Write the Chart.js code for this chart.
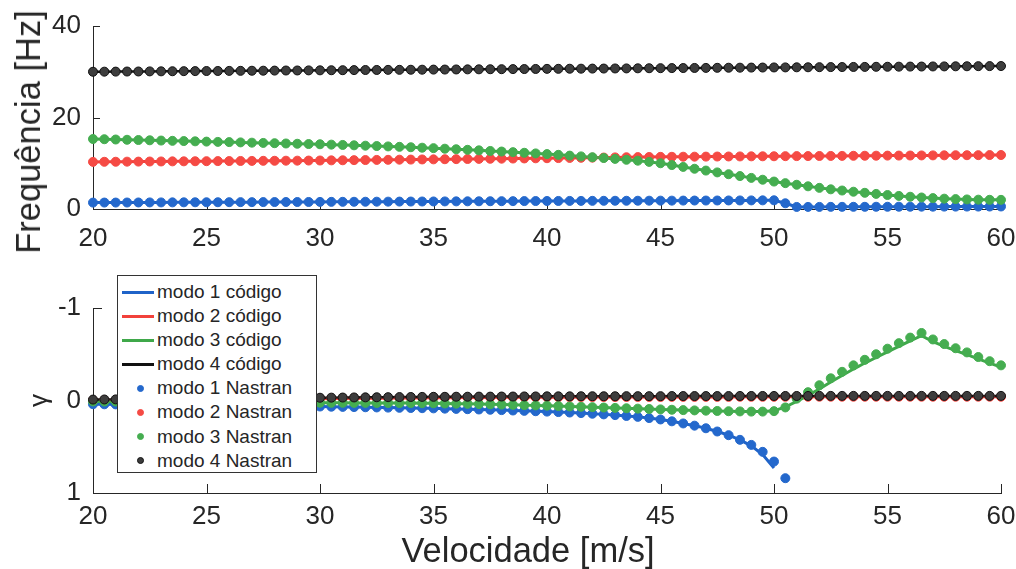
<!DOCTYPE html>
<html>
<head>
<meta charset="utf-8">
<script src="https://cdn.jsdelivr.net/npm/chart.js@4.4.1/dist/chart.umd.min.js"></script>
<style>
  body { margin: 0; background: #fff; }
  #wrap { position: relative; width: 1016px; height: 569px; overflow: hidden; font-family: 'Liberation Sans', Arial, sans-serif; color: #262626; }
  .panel { position: absolute; left: 0; width: 1016px; }
  #freqPanel { top: 0; height: 260px; }
  #gammaPanel { top: 260px; height: 309px; }
  .axis-title { position: absolute; font-size: 34.5px; line-height: 34px; white-space: nowrap; }
  #freqTitle { left: 28px; top: 132px; transform: translate(-50%, -50%) rotate(-90deg); }
  #velTitle { left: 528px; top: 533px; transform: translateX(-50%); }
  #legend { position: absolute; left: 117px; top: 275px; width: 200px; height: 198px; box-sizing: border-box;
            border: 1px solid #333; background: #fff; padding-top: 4px; font-size: 19px; color: #262626; }
  .row { position: relative; height: 24.1px; line-height: 24px; }
  .swatch-line { position: absolute; left: 4px; top: 10.5px; width: 32px; height: 3px; }
  .swatch-dot { position: absolute; left: 18.5px; top: 8.5px; width: 7px; height: 7px; border-radius: 50%; border: 1px solid; box-sizing: border-box; }
  .txt { position: absolute; left: 39px; top: 0; white-space: nowrap; }
</style>
</head>
<body>
<div id="wrap">
  <div class="panel" id="freqPanel"><canvas id="freqChart"></canvas></div>
  <div class="panel" id="gammaPanel"><canvas id="gammaChart"></canvas></div>
  <div class="axis-title" id="freqTitle">Frequência [Hz]</div>
  <div class="axis-title" id="velTitle">Velocidade [m/s]</div>
  <div id="legend"></div>
</div>
<script>
// velocity sweep, m/s
const velocity = [20, 20.5, 21, 21.5, 22, 22.5, 23, 23.5, 24, 24.5, 25, 25.5, 26, 26.5, 27, 27.5, 28, 28.5, 29, 29.5,
  30, 30.5, 31, 31.5, 32, 32.5, 33, 33.5, 34, 34.5, 35, 35.5, 36, 36.5, 37, 37.5, 38, 38.5, 39, 39.5,
  40, 40.5, 41, 41.5, 42, 42.5, 43, 43.5, 44, 44.5, 45, 45.5, 46, 46.5, 47, 47.5, 48, 48.5, 49, 49.5,
  50, 50.5, 51, 51.5, 52, 52.5, 53, 53.5, 54, 54.5, 55, 55.5, 56, 56.5, 57, 57.5, 58, 58.5, 59, 59.5, 60];

// frequency per mode [Hz]
const freq1 = [1.40, 1.41, 1.41, 1.42, 1.43, 1.44, 1.44, 1.45, 1.46, 1.47, 1.47,
  1.48, 1.49, 1.50, 1.50, 1.51, 1.52, 1.53, 1.53, 1.54, 1.55,
  1.56, 1.57, 1.58, 1.59, 1.60, 1.61, 1.62, 1.63, 1.64, 1.65,
  1.66, 1.67, 1.68, 1.69, 1.70, 1.71, 1.72, 1.73, 1.74, 1.75,
  1.76, 1.77, 1.77, 1.78, 1.79, 1.80, 1.80, 1.81, 1.82, 1.83,
  1.83, 1.84, 1.85, 1.85, 1.86, 1.87, 1.87, 1.88, 1.89, 1.90,
  1.25,
  0.45, 0.46, 0.46, 0.47, 0.47, 0.48, 0.48, 0.49, 0.49, 0.50,
  0.50, 0.51, 0.51, 0.52, 0.52, 0.53, 0.53, 0.54, 0.55];
const freq2 = [10.30, 10.32, 10.33, 10.35, 10.36, 10.38, 10.39, 10.41, 10.42, 10.44, 10.45,
  10.47, 10.48, 10.50, 10.51, 10.53, 10.54, 10.56, 10.57, 10.59, 10.60,
  10.63, 10.65, 10.68, 10.70, 10.73, 10.75, 10.78, 10.80, 10.83, 10.85,
  10.88, 10.90, 10.93, 10.95, 10.98, 11.00, 11.03, 11.05, 11.08, 11.10,
  11.13, 11.16, 11.19, 11.22, 11.25, 11.28, 11.31, 11.34, 11.37, 11.40,
  11.41, 11.43, 11.44, 11.45, 11.47, 11.48, 11.49, 11.51, 11.52, 11.53,
  11.55, 11.56, 11.57, 11.59, 11.60, 11.61, 11.63, 11.64, 11.65, 11.67,
  11.68, 11.69, 11.71, 11.72, 11.73, 11.75, 11.76, 11.77, 11.79, 11.80];
const freq3 = [15.30, 15.25, 15.19, 15.13, 15.08, 15.02, 14.96, 14.90, 14.85, 14.79, 14.73,
  14.67, 14.62, 14.56, 14.50, 14.44, 14.38, 14.32, 14.26, 14.20, 14.15,
  14.07, 14.00, 13.92, 13.84, 13.76, 13.68, 13.59, 13.50, 13.40, 13.30,
  13.18, 13.06, 12.94, 12.82, 12.69, 12.56, 12.43, 12.29, 12.15, 12.00,
  11.84, 11.67, 11.50, 11.32, 11.14, 10.95, 10.76, 10.56, 10.30, 10.00,
  9.60, 9.20, 8.80, 8.40, 8.00, 7.60, 7.20, 6.80, 6.40, 6.00,
  5.65, 5.30, 4.96, 4.62, 4.30, 4.04, 3.78, 3.54, 3.30, 3.06,
  2.86, 2.68, 2.52, 2.38, 2.26, 2.16, 2.09, 2.04, 2.01, 2.00];
const freq4 = [30.00, 30.02, 30.03, 30.05, 30.06, 30.08, 30.09, 30.11, 30.13, 30.14, 30.16,
  30.17, 30.19, 30.20, 30.22, 30.23, 30.25, 30.27, 30.28, 30.30, 30.31,
  30.33, 30.34, 30.36, 30.38, 30.39, 30.41, 30.42, 30.44, 30.45, 30.47,
  30.48, 30.50, 30.52, 30.53, 30.55, 30.56, 30.58, 30.59, 30.61, 30.63,
  30.64, 30.66, 30.67, 30.69, 30.70, 30.72, 30.73, 30.75, 30.77, 30.78,
  30.80, 30.81, 30.83, 30.84, 30.86, 30.88, 30.89, 30.91, 30.92, 30.94,
  30.95, 30.97, 30.98, 31.00, 31.02, 31.03, 31.05, 31.06, 31.08, 31.09,
  31.11, 31.13, 31.14, 31.16, 31.17, 31.19, 31.20, 31.22, 31.23, 31.25];

// damping per mode, in-house code
const gamma1Codigo = [0.040, 0.041, 0.042, 0.043, 0.044, 0.045, 0.046, 0.047, 0.048, 0.049, 0.050,
  0.051, 0.052, 0.054, 0.055, 0.057, 0.058, 0.060, 0.061, 0.063, 0.065,
  0.067, 0.069, 0.071, 0.073, 0.075, 0.077, 0.079, 0.081, 0.083, 0.085,
  0.088, 0.091, 0.094, 0.097, 0.100, 0.104, 0.108, 0.112, 0.116, 0.120,
  0.125, 0.130, 0.136, 0.143, 0.150, 0.158, 0.167, 0.177, 0.190, 0.205,
  0.225, 0.248, 0.272, 0.300, 0.335, 0.375, 0.425, 0.490, 0.585, 0.730,
  null, null, null, null, null, null, null, null, null, null,
  null, null, null, null, null, null, null, null, null, null];
const gamma2Codigo = [0.000, -0.001, -0.002, -0.003, -0.004, -0.005, -0.006, -0.007, -0.008, -0.009, -0.010,
  -0.011, -0.012, -0.013, -0.014, -0.015, -0.016, -0.017, -0.018, -0.019, -0.020,
  -0.021, -0.022, -0.023, -0.024, -0.025, -0.026, -0.027, -0.028, -0.029, -0.030,
  -0.031, -0.032, -0.032, -0.033, -0.033, -0.034, -0.034, -0.035, -0.035, -0.036,
  -0.036, -0.036, -0.037, -0.037, -0.037, -0.037, -0.038, -0.038, -0.038, -0.038,
  -0.039, -0.039, -0.039, -0.039, -0.039, -0.039, -0.040, -0.040, -0.040, -0.040,
  -0.040, -0.040, -0.040, -0.041, -0.041, -0.041, -0.041, -0.041, -0.041, -0.041,
  -0.041, -0.041, -0.041, -0.041, -0.041, -0.041, -0.041, -0.041, -0.041, -0.041];
const gamma3Codigo = [0.010, 0.011, 0.011, 0.012, 0.012, 0.013, 0.013, 0.014, 0.014, 0.015, 0.015,
  0.016, 0.016, 0.017, 0.018, 0.019, 0.020, 0.021, 0.022, 0.023, 0.024,
  0.025, 0.025, 0.026, 0.026, 0.027, 0.027, 0.028, 0.028, 0.029, 0.030,
  0.032, 0.034, 0.036, 0.038, 0.041, 0.044, 0.047, 0.050, 0.053, 0.056,
  0.060, 0.064, 0.068, 0.072, 0.076, 0.080, 0.084, 0.088, 0.092, 0.096,
  0.100, 0.104, 0.107, 0.110, 0.113, 0.116, 0.118, 0.120, 0.120, 0.112,
  0.070, 0.010, -0.055, -0.125, -0.200, -0.270, -0.340, -0.405, -0.465, -0.525,
  -0.585, -0.645, -0.700, -0.635, -0.585, -0.540, -0.495, -0.450, -0.405, -0.360];
const gamma4Codigo = [-0.010, -0.011, -0.012, -0.013, -0.014, -0.015, -0.016, -0.017, -0.018, -0.019, -0.020,
  -0.021, -0.022, -0.023, -0.024, -0.025, -0.026, -0.027, -0.028, -0.029, -0.030,
  -0.031, -0.032, -0.033, -0.034, -0.035, -0.036, -0.037, -0.038, -0.039, -0.040,
  -0.040, -0.041, -0.041, -0.042, -0.042, -0.043, -0.043, -0.044, -0.044, -0.045,
  -0.045, -0.045, -0.046, -0.046, -0.046, -0.046, -0.047, -0.047, -0.047, -0.047,
  -0.048, -0.048, -0.048, -0.048, -0.048, -0.048, -0.049, -0.049, -0.049, -0.049,
  -0.049, -0.049, -0.049, -0.050, -0.050, -0.050, -0.050, -0.050, -0.050, -0.050,
  -0.050, -0.050, -0.050, -0.050, -0.050, -0.050, -0.050, -0.050, -0.050, -0.050];

// damping per mode, Nastran
const gamma1Nastran = [0.040, 0.041, 0.042, 0.043, 0.044, 0.045, 0.046, 0.047, 0.048, 0.049, 0.050,
  0.051, 0.052, 0.054, 0.055, 0.057, 0.058, 0.060, 0.061, 0.063, 0.065,
  0.067, 0.069, 0.071, 0.073, 0.075, 0.077, 0.079, 0.081, 0.083, 0.085,
  0.088, 0.091, 0.094, 0.097, 0.100, 0.104, 0.108, 0.112, 0.116, 0.120,
  0.125, 0.130, 0.136, 0.143, 0.150, 0.158, 0.167, 0.177, 0.190, 0.205,
  0.225, 0.248, 0.272, 0.300, 0.335, 0.375, 0.425, 0.480, 0.555, 0.660,
  0.840, null, null, null, null, null, null, null, null, null,
  null, null, null, null, null, null, null, null, null, null];
const gamma2Nastran = gamma2Codigo;
const gamma3Nastran = [0.010, 0.011, 0.011, 0.012, 0.012, 0.013, 0.013, 0.014, 0.014, 0.015, 0.015,
  0.016, 0.016, 0.017, 0.018, 0.019, 0.020, 0.021, 0.022, 0.023, 0.024,
  0.025, 0.025, 0.026, 0.026, 0.027, 0.027, 0.028, 0.028, 0.029, 0.030,
  0.032, 0.034, 0.036, 0.038, 0.041, 0.044, 0.047, 0.050, 0.053, 0.056,
  0.060, 0.064, 0.068, 0.072, 0.076, 0.080, 0.084, 0.088, 0.092, 0.096,
  0.100, 0.104, 0.107, 0.110, 0.113, 0.116, 0.118, 0.120, 0.120, 0.115,
  0.075, -0.020, -0.090, -0.165, -0.240, -0.310, -0.380, -0.440, -0.500, -0.560,
  -0.620, -0.680, -0.730, -0.660, -0.610, -0.565, -0.520, -0.470, -0.425, -0.380];
const gamma4Nastran = gamma4Codigo;

const modeColors = ['#1f63c8', '#f2413b', '#3fa84a', '#111111'];
const markerFill = ['#2468cc', '#f54a44', '#45ad50', '#3d3d3d'];
const markerEdge = ['#2468cc', '#f54a44', '#45ad50', '#111111'];

const xTicks = [20, 25, 30, 35, 40, 45, 50, 55, 60];

Chart.defaults.font.family = "'Liberation Sans', Arial, sans-serif";
Chart.defaults.color = '#262626';

function pairs(values) {
  return velocity.map((v, i) => ({ x: v, y: values[i] }));
}

function codigoSet(mode, values) {
  return {
    label: 'modo ' + mode + ' código',
    data: pairs(values),
    borderColor: modeColors[mode - 1],
    backgroundColor: modeColors[mode - 1],
    borderWidth: mode === 4 ? 2.5 : 3,
    pointRadius: 0,
    showLine: true,
    tension: 0,
    clip: false,
    order: 8 - mode
  };
}

function nastranSet(mode, values) {
  return {
    label: 'modo ' + mode + ' Nastran',
    data: pairs(values),
    showLine: false,
    pointRadius: 4.5,
    pointBackgroundColor: markerFill[mode - 1],
    pointBorderColor: markerEdge[mode - 1],
    pointBorderWidth: 1,
    clip: false,
    order: 4 - mode
  };
}

// short tick marks drawn inside the axes
const innerTicks = {
  id: 'innerTicks',
  beforeDatasetsDraw(chart, args, opts) {
    const { ctx, chartArea } = chart;
    const len = opts.length || 8;
    const xs = chart.scales.x, ys = chart.scales.y;
    ctx.save();
    ctx.strokeStyle = '#262626';
    ctx.lineWidth = 1;
    ctx.beginPath();
    xs.ticks.forEach(t => {
      const px = Math.round(xs.getPixelForValue(t.value)) + 0.5;
      ctx.moveTo(px, chartArea.bottom);
      ctx.lineTo(px, chartArea.bottom - len);
    });
    ys.ticks.forEach(t => {
      const py = Math.round(ys.getPixelForValue(t.value)) + 0.5;
      ctx.moveTo(chartArea.left, py);
      ctx.lineTo(chartArea.left + len, py);
    });
    ctx.stroke();
    ctx.restore();
  }
};

function axisOptions(cfg) {
  return {
    x: {
      type: 'linear',
      min: 20, max: 60,
      afterBuildTicks: s => { s.ticks = xTicks.map(v => ({ value: v })); },
      grid: { display: true, drawOnChartArea: false, drawTicks: false },
      border: { display: true, color: '#262626', width: 1 },
      ticks: { font: { size: 26 }, padding: cfg.xPad, maxRotation: 0, color: '#262626' },
      afterFit: s => { s.height = cfg.xHeight; s.paddingLeft = 0; s.paddingRight = 0; }
    },
    y: {
      type: 'linear',
      min: cfg.yMin, max: cfg.yMax,
      reverse: cfg.reverse,
      grid: { display: true, drawOnChartArea: false, drawTicks: false },
      border: { display: true, color: '#262626', width: 1 },
      ticks: { stepSize: cfg.yStep, font: { size: 26 }, padding: 12, color: '#262626' },
      title: cfg.yTitle,
      afterFit: s => { s.width = 93; s.paddingTop = 0; s.paddingBottom = 0; }
    }
  };
}

const freqChart = new Chart(document.getElementById('freqChart'), {
  type: 'line',
  data: {
    datasets: [
      codigoSet(1, freq1), codigoSet(2, freq2), codigoSet(3, freq3), codigoSet(4, freq4),
      nastranSet(1, freq1), nastranSet(2, freq2), nastranSet(3, freq3), nastranSet(4, freq4)
    ]
  },
  options: {
    responsive: true,
    maintainAspectRatio: false,
    animation: false,
    events: [],
    layout: { padding: { top: 26, right: 15, left: 0, bottom: 0 } },
    plugins: { legend: { display: false }, tooltip: { enabled: false }, innerTicks: { length: 7 } },
    scales: axisOptions({ xPad: 14, xHeight: 51, yMin: 0, yMax: 40, yStep: 20, reverse: false, yTitle: { display: false } })
  },
  plugins: [innerTicks]
});

const gammaChart = new Chart(document.getElementById('gammaChart'), {
  type: 'line',
  data: {
    datasets: [
      codigoSet(1, gamma1Codigo), codigoSet(2, gamma2Codigo), codigoSet(3, gamma3Codigo), codigoSet(4, gamma4Codigo),
      nastranSet(1, gamma1Nastran), nastranSet(2, gamma2Nastran), nastranSet(3, gamma3Nastran), nastranSet(4, gamma4Nastran)
    ]
  },
  options: {
    responsive: true,
    maintainAspectRatio: false,
    animation: false,
    events: [],
    layout: { padding: { top: 48, right: 15, left: 0, bottom: 0 } },
    plugins: { legend: { display: false }, tooltip: { enabled: false }, innerTicks: { length: 9 } },
    scales: axisOptions({
      xPad: 8, xHeight: 76, yMin: -1, yMax: 1, yStep: 1, reverse: true,
      yTitle: { display: true, text: 'γ', font: { size: 26 }, padding: { top: 24, bottom: 0 }, color: '#262626' }
    })
  },
  plugins: [innerTicks]
});

// legend box built from the damping chart datasets
const legendEl = document.getElementById('legend');
gammaChart.data.datasets.forEach(ds => {
  const row = document.createElement('div');
  row.className = 'row';
  const sw = document.createElement('span');
  if (ds.showLine) {
    sw.className = 'swatch-line';
    sw.style.background = ds.borderColor;
  } else {
    sw.className = 'swatch-dot';
    sw.style.background = ds.pointBackgroundColor;
    sw.style.borderColor = ds.pointBorderColor;
  }
  const txt = document.createElement('span');
  txt.className = 'txt';
  txt.textContent = ds.label;
  row.append(sw, txt);
  legendEl.appendChild(row);
});
</script>
</body>
</html>
